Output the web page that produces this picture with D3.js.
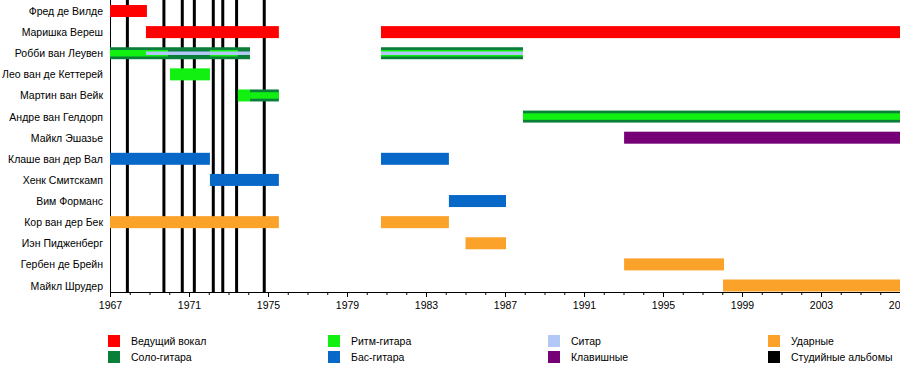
<!DOCTYPE html>
<html>
<head>
<meta charset="utf-8">
<script src="https://cdn.jsdelivr.net/npm/d3@7/dist/d3.min.js"></script>
<style>
  html, body { margin: 0; padding: 0; background: #fff; }
  svg { display: block; }
  text { font-family: "Liberation Sans", Arial, sans-serif; fill: #000; }
</style>
</head>
<body>
<svg id="chart" width="900" height="391"></svg>
<script>
// ---- DATA ----
const members = [
  "Фред де Вилде", "Маришка Вереш", "Робби ван Леувен", "Лео ван де Кеттерей",
  "Мартин ван Вейк", "Андре ван Гелдорп", "Майкл Эшазье", "Клаше ван дер Вал",
  "Хенк Смитскамп", "Вим Форманс", "Кор ван дер Бек", "Иэн Пидженберг",
  "Гербен де Брейн", "Майкл Шрудер"
];
const roles = ["vocals", "lead", "rhythm", "sitar", "keys", "bass", "drums", "albums"];
const roleLabels = ["Ведущий вокал", "Соло-гитара", "Ритм-гитара", "Ситар", "Клавишные", "Бас-гитара", "Ударные", "Студийные альбомы"];
// [member, role, start, end]
const spans = [
  ["Фред де Вилде", "vocals", 1967, 1968.87],
  ["Маришка Вереш", "vocals", 1968.82, 1975.55],
  ["Маришка Вереш", "vocals", 1980.72, 2007],
  ["Робби ван Леувен", "lead", 1967, 1974.09],
  ["Робби ван Леувен", "rhythm", 1967, 1969.94],
  ["Робби ван Леувен", "rhythm", 1972.06, 1973.47],
  ["Робби ван Леувен", "sitar", 1968.82, 1974.09],
  ["Робби ван Леувен", "lead", 1980.72, 1987.91],
  ["Робби ван Леувен", "rhythm", 1980.72, 1987.91],
  ["Робби ван Леувен", "sitar", 1980.72, 1987.91],
  ["Лео ван де Кеттерей", "rhythm", 1970.04, 1972.06],
  ["Мартин ван Вейк", "rhythm", 1973.47, 1974.09],
  ["Мартин ван Вейк", "lead", 1974.09, 1975.55],
  ["Мартин ван Вейк", "rhythm", 1974.09, 1975.55],
  ["Андре ван Гелдорп", "lead", 1987.91, 2007],
  ["Андре ван Гелдорп", "rhythm", 1987.91, 2007],
  ["Майкл Эшазье", "keys", 1993.03, 2007],
  ["Клаше ван дер Вал", "bass", 1967, 1972.06],
  ["Клаше ван дер Вал", "bass", 1980.72, 1984.16],
  ["Хенк Смитскамп", "bass", 1972.06, 1975.55],
  ["Вим Форманс", "bass", 1984.16, 1987.05],
  ["Кор ван дер Бек", "drums", 1967, 1975.55],
  ["Кор ван дер Бек", "drums", 1980.72, 1984.16],
  ["Иэн Пидженберг", "drums", 1985.0, 1987.05],
  ["Гербен де Брейн", "drums", 1993.03, 1998.09],
  ["Майкл Шрудер", "drums", 1998.04, 2007]
];
const albums = [1967.88, 1969.73, 1970.66, 1971.27, 1972.23, 1972.71, 1973.41, 1974.81];
const majorTicks = [1967, 1971, 1975, 1979, 1983, 1987, 1991, 1995, 1999, 2003, 2007];

// ---- STYLE ----
const colors = {
  vocals: "#ff0000", lead: "#0a7f3a", rhythm: "#11f011", sitar: "#b4c8f8",
  keys: "#760076", bass: "#0868c8", drums: "#fba22b", albums: "#000000"
};
const levelHeights = [12, 6.5, 3.5];

const svg = d3.select("#chart");
const x = d3.scaleLinear().domain([1967, 2007]).range([110, 900]);
const y = d3.scalePoint().domain(members).range([11, 285.5]);
const axisY = 292;

// studio album lines
svg.append("g").selectAll("line").data(albums).join("line")
  .attr("x1", d => x(d)).attr("x2", d => x(d))
  .attr("y1", 0).attr("y2", axisY)
  .attr("stroke", colors.albums).attr("stroke-width", 3);

// left axis line
svg.append("line").attr("x1", 110.5).attr("x2", 110.5).attr("y1", 0).attr("y2", axisY)
  .attr("stroke", "#000").attr("stroke-width", 1);

// bars: compute level by overlaps with earlier spans of same member (draw order by role)
const order = ["vocals", "lead", "rhythm", "sitar", "keys", "bass", "drums"];
const sorted = spans.map((s, i) => ({ m: s[0], role: s[1], s: s[2], e: s[3], i }))
  .sort((a, b) => order.indexOf(a.role) - order.indexOf(b.role) || a.i - b.i);
sorted.forEach((d, k) => {
  let lvl = 0;
  for (let j = 0; j < k; j++) {
    const o = sorted[j];
    if (o.m === d.m && o.role !== d.role && o.s < d.e && d.s < o.e) lvl++;
  }
  d.level = Math.min(lvl, 2);
});
svg.append("g").selectAll("rect").data(sorted).join("rect")
  .attr("x", d => x(d.s))
  .attr("width", d => x(d.e) - x(d.s))
  .attr("y", d => y(d.m) - levelHeights[d.level] / 2)
  .attr("height", d => levelHeights[d.level])
  .attr("fill", d => colors[d.role]);

// member labels
svg.append("g").selectAll("text").data(members).join("text")
  .attr("x", 103).attr("y", d => y(d) + 4)
  .attr("text-anchor", "end").attr("font-size", 10.5)
  .text(d => d);

// x axis
const xAxis = d3.axisBottom(x)
  .tickValues(d3.range(1967, 2008, 1))
  .tickSize(3).tickFormat("");
const gx = svg.append("g").attr("transform", `translate(0,${axisY})`).call(xAxis);
gx.select(".domain").attr("stroke", "#000");
gx.selectAll(".tick line").attr("stroke", "#000");
const gMajor = svg.append("g").attr("transform", `translate(0,${axisY})`)
  .call(d3.axisBottom(x).tickValues(majorTicks).tickSize(5).tickFormat(d3.format("d")));
gMajor.select(".domain").remove();
gMajor.selectAll(".tick line").attr("stroke", "#000");
gMajor.selectAll(".tick text")
  .attr("font-family", "Liberation Sans, Arial, sans-serif")
  .attr("font-size", 10.5).attr("fill", "#000").attr("dy", "0.9em");

// legend
const legend = svg.append("g");
const legendCols = [[0, 1], [2, 5], [3, 4], [6, 7]];
legendCols.forEach((col, ci) => {
  col.forEach((ri, rowi) => {
    const g = legend.append("g")
      .attr("transform", `translate(${108 + ci * 220},${335 + rowi * 16})`);
    g.append("rect").attr("width", 12).attr("height", 12).attr("fill", colors[roles[ri]]);
    g.append("text").attr("x", 23).attr("y", 10).attr("font-size", 10.5).text(roleLabels[ri]);
  });
});
</script>
</body>
</html>
